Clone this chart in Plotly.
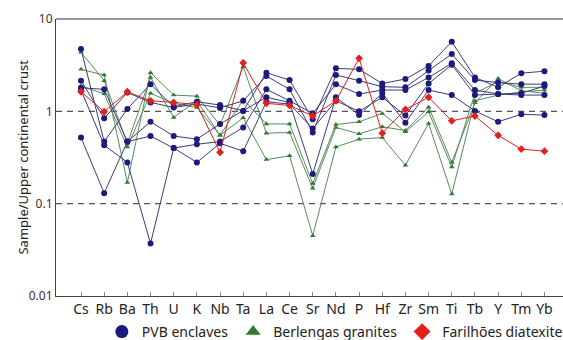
import plotly.graph_objects as go

elements = ["Cs","Rb","Ba","Th","U","K","Nb","Ta","La","Ce","Sr","Nd","P","Hf","Zr","Sm","Ti","Tb","Y","Tm","Yb"]

pvb_1 = [4.73, 0.47, 1.06, 1.97, 1.12, 1.27, 1.17, 1.01, 2.62, 2.18, 0.82, 2.92, 2.85, 2.00, 2.24, 3.10, 5.68, 2.33, 1.82, 2.59, 2.72]
pvb_2 = [2.15, 0.84, 1.60, 1.25, 1.10, 1.20, 1.09, 1.30, 2.41, 1.73, 0.59, 2.47, 2.15, 1.85, 1.82, 2.76, 4.18, 2.18, 2.05, 1.97, 1.97]
pvb_3 = [1.80, 1.73, 0.47, 0.54, 0.40, 0.44, 0.47, 0.67, 1.73, 1.30, 0.95, 1.96, 1.54, 1.70, 1.70, 2.33, 3.31, 1.70, 1.54, 1.57, 1.88]
pvb_4 = [0.52, 0.13, 0.47, 0.77, 0.54, 0.50, 0.73, 1.01, 1.42, 1.25, 0.21, 1.42, 0.91, 1.57, 0.75, 1.70, 1.50, 1.01, 0.77, 0.93, 0.91]
pvb_5 = [1.70, 0.43, 0.28, 0.037, 0.40, 0.28, 0.45, 0.37, 1.27, 1.20, 0.65, 1.30, 1.00, 1.42, 0.90, 2.00, 3.20, 1.50, 1.54, 1.50, 1.50]

ber_1 = [2.85, 2.47, 0.17, 2.62, 1.50, 1.46, 0.71, 3.04, 0.58, 0.59, 0.147, 0.67, 0.57, 0.68, 0.62, 1.11, 0.28, 1.24, 2.27, 1.67, 1.57]
ber_2 = [4.36, 2.15, 0.45, 2.33, 0.86, 1.30, 0.55, 1.34, 0.73, 0.73, 0.165, 0.72, 0.77, 0.95, 0.60, 0.99, 0.25, 1.57, 2.10, 1.82, 1.82]
ber_3 = [1.88, 1.55, 0.41, 1.57, 1.22, 1.10, 0.55, 0.85, 0.30, 0.33, 0.045, 0.41, 0.50, 0.52, 0.26, 0.74, 0.127, 1.30, 1.50, 1.62, 1.70]

far_1 = [1.63, 0.99, 1.63, 1.30, 1.25, 1.18, 0.36, 3.35, 1.22, 1.16, 0.89, 1.30, 3.75, 0.58, 1.05, 1.42, 0.79, 0.89, 0.55, 0.39, 0.37]

ref_levels = [1, 0.1]
ytick_vals = [0.01, 0.1, 1, 10]
ytick_text = ["0.01", "0.1", "1", "10"]

BLUE_LINE = "#3a3a80"
BLUE_MK = "#1c1a7c"
GREEN_LINE = "#5a8a5a"
GREEN_MK = "#2f7a30"
RED = "#e3201c"

xs = list(range(len(elements)))
fig = go.Figure()

for s in [ber_1, ber_2, ber_3]:
    fig.add_trace(go.Scatter(x=xs, y=s, mode="lines+markers", showlegend=False,
                             line=dict(color=GREEN_LINE, width=1),
                             marker=dict(symbol="triangle-up", size=5, color=GREEN_MK)))
for s in [pvb_1, pvb_2, pvb_3, pvb_4, pvb_5]:
    fig.add_trace(go.Scatter(x=xs, y=s, mode="lines+markers", showlegend=False,
                             line=dict(color=BLUE_LINE, width=1),
                             marker=dict(symbol="circle", size=6, color=BLUE_MK)))
fig.add_trace(go.Scatter(x=xs, y=far_1, mode="lines+markers", showlegend=False,
                         line=dict(color=RED, width=1),
                         marker=dict(symbol="diamond", size=6, color=RED)))

# legend-only entries
fig.add_trace(go.Scatter(x=[None], y=[None], mode="markers", name="PVB enclaves",
                         marker=dict(symbol="circle", size=13, color=BLUE_MK)))
fig.add_trace(go.Scatter(x=[None], y=[None], mode="markers", name="Berlengas granites",
                         marker=dict(symbol="triangle-up", size=13, color=GREEN_MK)))
fig.add_trace(go.Scatter(x=[None], y=[None], mode="markers", name="Farilhões diatexite",
                         marker=dict(symbol="diamond", size=13, color=RED)))

for lv in ref_levels:
    fig.add_shape(type="line", xref="paper", x0=0, x1=1, yref="y", y0=lv, y1=lv,
                  line=dict(color="#555555", width=1.3, dash="6px,5px"), layer="below")
fig.add_shape(type="line", xref="paper", x0=0, x1=1, yref="paper", y0=1, y1=1,
              line=dict(color="#777777", width=1.5))

fig.add_annotation(text="Sample/Upper continental crust", textangle=-90,
                   xref="paper", yref="paper", x=-0.067, y=0.5, showarrow=False,
                   xanchor="center", yanchor="middle",
                   font=dict(size=13, color="#222222"))

fig.update_layout(
    width=563, height=340,
    margin=dict(l=56, r=0, t=19, b=44, autoexpand=False),
    paper_bgcolor="white", plot_bgcolor="white",
    font=dict(family="Noto Sans, Open Sans, sans-serif", color="#222222"),
    legend=dict(orientation="h", x=0.55, xanchor="center", y=-0.13, yanchor="middle",
                font=dict(size=14, color="#222222"), itemwidth=30,
                bgcolor="rgba(0,0,0,0)", tracegroupgap=0),
)
fig.update_xaxes(range=[-1.079, 20.8], tickvals=xs, ticktext=elements,
                 showgrid=False, zeroline=False, showline=True, linecolor="#444444",
                 linewidth=1.2, ticks="inside", ticklen=4, tickcolor="#888888",
                 tickfont=dict(size=14, color="#222222"))
fig.update_yaxes(type="log", range=[-2, 1], tickvals=ytick_vals, ticktext=ytick_text,
                 showgrid=False, zeroline=False, showline=True, linecolor="#444444",
                 linewidth=1.2, ticks="", tickfont=dict(size=12, color="#333333"))

fig.write_html("out.html")
